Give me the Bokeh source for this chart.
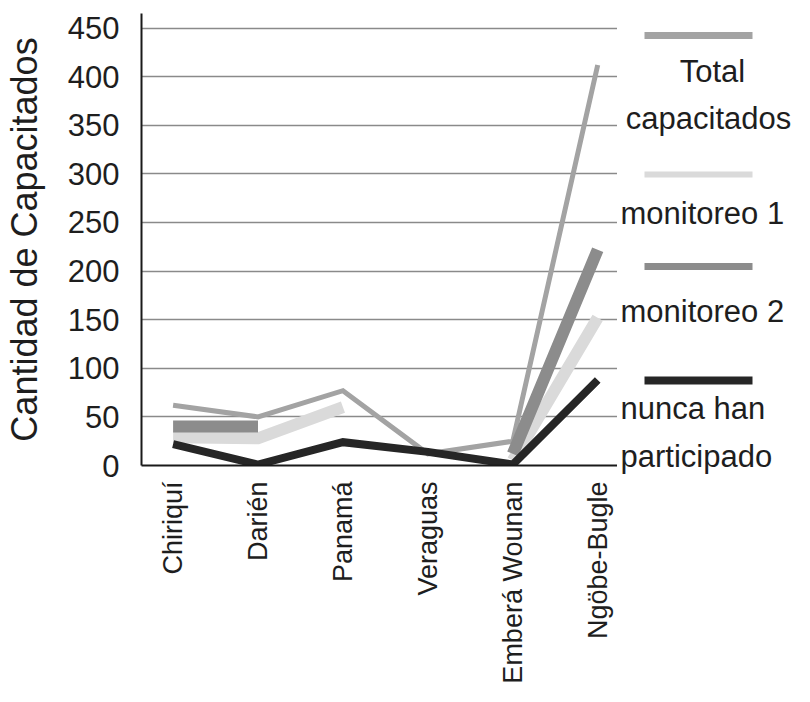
import math
import numpy as np
from bokeh.plotting import figure
from bokeh.models import Range1d, FixedTicker
from bokeh.layouts import row, column
from bokeh.core.properties import value
from bokeh.embed import file_html
from bokeh.resources import INLINE

# ---- data ----
categories = ["Chiriquí", "Darién", "Panamá", "Veraguas", "Emberá Wounan", "Ngöbe-Bugle"]
total_capacitados = [62, 50, 77, 12, 25, 412]
monitoreo_1 = [29, 28, 60, float("nan"), 5, 152]
monitoreo_2 = [40, 40, float("nan"), float("nan"), 12, 222]
nunca_han_participado = [22, 1, 24, 14, 1, 88]
y_ticks = [0, 50, 100, 150, 200, 250, 300, 350, 400, 450]
series_names = ["Total capacitados", "monitoreo 1", "monitoreo 2", "nunca han participado"]

FONT = "Liberation Sans"
TXT = "#1e1e1e"
H = 686
TOP = 13
BOTTOM = 221

x = list(range(len(categories)))

p = figure(width=617, height=H,
           x_range=Range1d(-0.372, 5.233), y_range=Range1d(0, 465),
           output_backend="svg", toolbar_location=None,
           min_border_left=135, min_border_right=0,
           min_border_top=TOP, min_border_bottom=BOTTOM)
p.outline_line_color = None
p.background_fill_color = "white"
p.border_fill_color = "white"

# grid
p.xgrid.visible = False
p.ygrid.ticker = FixedTicker(ticks=y_ticks)
p.ygrid.grid_line_color = "#8a8a8a"
p.ygrid.grid_line_width = 1.5

# y axis
p.yaxis.ticker = FixedTicker(ticks=y_ticks)
p.yaxis.axis_line_color = "#1a1a1a"
p.yaxis.axis_line_width = 2
p.yaxis.major_tick_line_color = None
p.yaxis.minor_tick_line_color = None
p.yaxis.major_label_text_font = FONT
p.yaxis.major_label_text_font_size = "31px"
p.yaxis.major_label_text_color = TXT
p.yaxis.major_label_standoff = 16
p.yaxis.axis_label = "Cantidad de Capacitados"
p.yaxis.axis_label_text_font = FONT
p.yaxis.axis_label_text_font_size = "36px"
p.yaxis.axis_label_text_font_style = "normal"
p.yaxis.axis_label_text_color = TXT
p.yaxis.axis_label_standoff = 20

# x axis
p.xaxis.ticker = FixedTicker(ticks=x)
p.xaxis.major_label_overrides = {i: c for i, c in zip(x, categories)}
p.xaxis.major_label_orientation = math.pi / 2
p.xaxis.axis_line_color = "#1a1a1a"
p.xaxis.axis_line_width = 2
p.xaxis.major_tick_line_color = None
p.xaxis.minor_tick_line_color = None
p.xaxis.major_label_text_font = FONT
p.xaxis.major_label_text_font_size = "27px"
p.xaxis.major_label_text_color = TXT
p.xaxis.major_label_standoff = 10

colors = ["#a3a3a3", "#dadada", "#8c8c8c", "#262626"]
widths = [5, 12, 12, 8]
series = [total_capacitados, monitoreo_1, monitoreo_2, nunca_han_participado]
for vals, c, w in zip(series, colors, widths):
    p.line(x, np.array(vals, dtype=float), line_color=c, line_width=w,
           line_join="miter")

# ---- legend panel (label placed below its line sample); coordinates are picture pixels ----
lf = figure(width=177, height=H, x_range=Range1d(625, 802), y_range=Range1d(H, 0),
            output_backend="svg", toolbar_location=None, min_border=0)
lf.axis.visible = False
lf.grid.visible = False
lf.outline_line_color = None
lf.background_fill_color = "white"
lf.border_fill_color = "white"

sample_y = [35, 174, 266, 380]
sample_w = [7, 6, 7, 8]
for yy, c, w in zip(sample_y, colors, sample_w):
    lf.segment(x0=[652], y0=[yy], x1=[760], y1=[yy], line_color=c, line_width=w)

total_lines = series_names[0].split(" ")
nunca_lines = ["nunca han", "participado"]
lf.text(x=[720, 716], y=[71, 118], text=total_lines,
        text_align="center", text_baseline="alphabetic",
        text_font=value(FONT), text_font_size=value("31px"), text_color=TXT)
lf.text(x=[628, 628, 628, 628], y=[213, 311, 408, 456],
        text=[series_names[1], series_names[2]] + nunca_lines,
        text_align="left", text_baseline="alphabetic",
        text_font=value(FONT), text_font_size=value("31px"), text_color=TXT)

layout = row(p, column(lf))
open("out.html", "w").write(file_html(layout, INLINE))
